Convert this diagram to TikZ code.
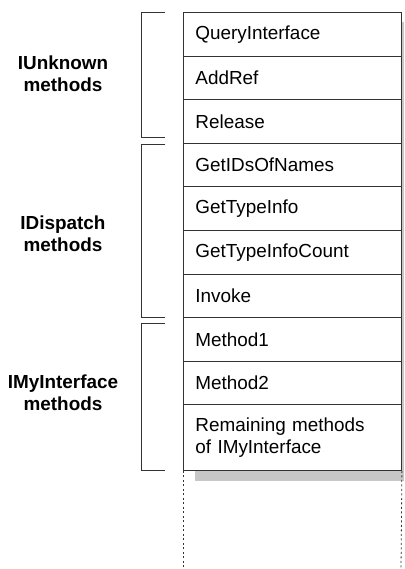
\documentclass[tikz,border=0pt]{standalone}
\usepackage{fontspec}
\setmainfont{Liberation Sans}
\usepackage{tikz}

\begin{document}
\begin{tikzpicture}[x=1pt,y=-1pt,
  slot/.style={draw=black!80,fill=white,line width=0.9pt,anchor=north west,
    minimum height=43.6pt,text width=194pt,inner xsep=12pt,align=left,
    font=\fontsize{18.9}{22}\selectfont},
  grouplabel/.style={align=center,font=\fontsize{18.9}{22}\selectfont\bfseries},
  brace/.style={draw=black!80,line width=0.9pt}]
  \useasboundingbox (0,0) rectangle (404,569);
  % shadow behind the table
  \fill[black!22] (195,22) rectangle (403.5,481);
  \node[slot] (qi) at (183,12) {QueryInterface};
  \node[slot] (addref) at (183,55.6) {AddRef};
  \node[slot] (release) at (183,99.2) {Release};
  \node[slot] (getids) at (183,142.8) {GetIDsOfNames};
  \node[slot] (gti) at (183,186.4) {GetTypeInfo};
  \node[slot] (gtic) at (183,230) {GetTypeInfoCount};
  \node[slot] (invoke) at (183,273.6) {Invoke};
  \node[slot] (m1) at (183,317.2) {Method1};
  \node[slot] (m2) at (183,360.8) {Method2};
  \node[slot,minimum height=65.6pt] (rest) at (183,404.4) {Remaining methods\\of IMyInterface};
  % open end of the table
  \coordinate (endl) at (183,569);
  \coordinate (endr) at (401,569);
  \draw[black!80,line width=0.8pt,dash pattern=on 2pt off 2.5pt] (rest.south west) -- (endl);
  \draw[black!80,line width=0.8pt,dash pattern=on 2pt off 2.5pt] (rest.south east) -- (endr);
  % groups
  \draw[brace] (165,12) -| (141,137) -- (165,137);
  \draw[brace] (165,144) -| (141,317) -- (165,317);
  \draw[brace] (165,323) -| (141,470) -- (165,470);
  \node[grouplabel] (unk) at (63,74) {IUnknown\\methods};
  \node[grouplabel] (disp) at (63,234) {IDispatch\\methods};
  \node[grouplabel] (mine) at (63,393) {IMyInterface\\methods};
\end{tikzpicture}
\end{document}
